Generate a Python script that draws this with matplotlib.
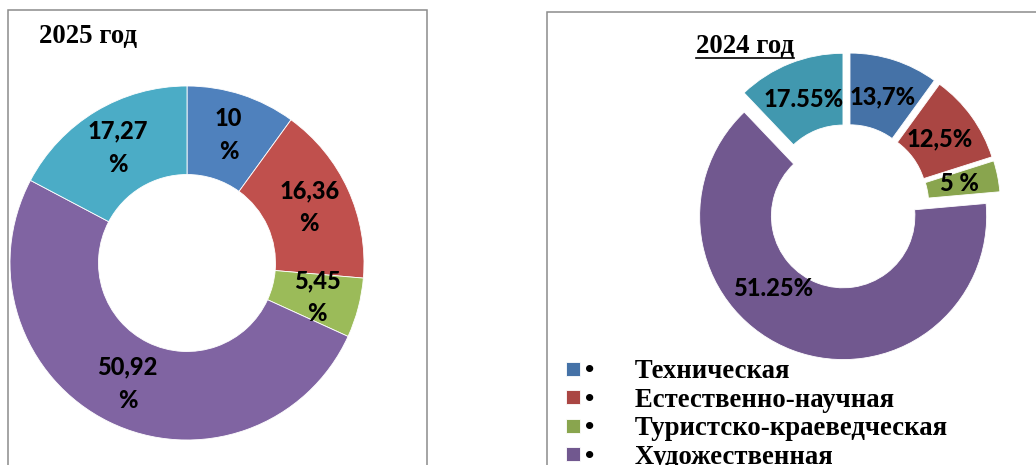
import numpy as np
import matplotlib.pyplot as plt
from matplotlib.patches import Rectangle
from matplotlib.lines import Line2D

categories = ['Техническая', 'Естественно-научная', 'Туристско-краеведческая',
              'Художественная', 'Социально-гуманитарная']

values_2025 = [10, 16.36, 5.45, 50.92, 17.27]
labels_2025 = ['10\n%', '16,36\n%', '5,45\n%', '50,92\n%', '17,27\n%']

# 2024: slice sizes as drawn in the picture (the labels were typed in by hand)
values_2024 = [10.0, 10.1, 3.5, 64.3, 12.1]
labels_2024 = ['13,7%', '12,5%', '5 %', '51.25%', '17.55%']

colors_2025 = ['#4F81BD', '#C0504D', '#9BBB59', '#8064A2', '#4BACC6']
colors_2024 = ['#4572A7', '#AA4643', '#89A54E', '#71588F', '#4198AF']

W, H = 1036, 465
fig = plt.figure(figsize=(W / 100, H / 100), dpi=100)

def px_axes(cx, cy, half):
    return fig.add_axes([(cx - half) / W, (H - cy - half) / H, 2 * half / W, 2 * half / H])

lbl_font = dict(fontfamily='Lato', fontweight=900, fontsize=17, color='black',
                ha='center', va='center', linespacing=1.55)

# panel frames
fig.add_artist(Rectangle((8 / W, -0.05), (427 - 8) / W, 1 - 10 / H + 0.05,
                         transform=fig.transFigure, fill=False, ec='#8c8c8c', lw=1.1))
fig.add_artist(Rectangle((547 / W, -0.05), 0.5, 1 - 12 / H + 0.05,
                         transform=fig.transFigure, fill=False, ec='#8c8c8c', lw=1.1))

# 2025
ax1 = px_axes(187, 263, 177)
ax1.pie(values_2025, colors=colors_2025, startangle=90, counterclock=False,
        labels=labels_2025, labeldistance=0.76, textprops=lbl_font,
        wedgeprops=dict(width=0.5, edgecolor='white', linewidth=0.6))
ax1.set_xlim(-1, 1)
ax1.set_ylim(-1, 1)
ax1.set_aspect('equal')

fig.text(39 / W, 1 - 42.7 / H, '2025 год', family='Liberation Serif', weight='bold',
         fontsize=19.3, ha='left', va='baseline')

# 2024
ax2 = px_axes(846.8, 206.4, 172.2)
wedges24, texts24 = ax2.pie(values_2024, colors=colors_2024, startangle=90, counterclock=False,
                            explode=[0.072] * 5, labels=labels_2024, labeldistance=0.73,
                            textprops=lbl_font,
                            wedgeprops=dict(width=0.5, edgecolor='white', linewidth=0.6))
ax2.set_xlim(-1.2, 1.2)
ax2.set_ylim(-1.2, 1.2)
ax2.set_aspect('equal')

# the big label sits further round the ring
cx, cy = wedges24[3].center
ang = np.deg2rad(-134)
texts24[3].set_position((cx + 0.7 * np.cos(ang), cy + 0.7 * np.sin(ang)))

t24 = fig.text(695.7 / W, 1 - 53.3 / H, '2024 год', family='Liberation Serif', weight='bold',
               fontsize=19.3, ha='left', va='baseline')

fig.legend(wedges24[:4], ['•      ' + c for c in categories[:4]],
           loc='upper left', bbox_to_anchor=(566 / W, 1 - 359.4 / H), frameon=False,
           prop=dict(family='Liberation Serif', weight='bold', size=19.3),
           handlelength=0.52, handleheight=0.423, handletextpad=0.2,
           labelspacing=0.13, borderpad=0, borderaxespad=0)

# underline for the 2024 title
fig.canvas.draw()
bb = t24.get_window_extent()
yline = 1 - 58.5 / H
fig.add_artist(Line2D([bb.x0 / W, bb.x1 / W], [yline, yline], transform=fig.transFigure,
                      color='black', lw=1.2))

fig.savefig('out.png', dpi=100)
